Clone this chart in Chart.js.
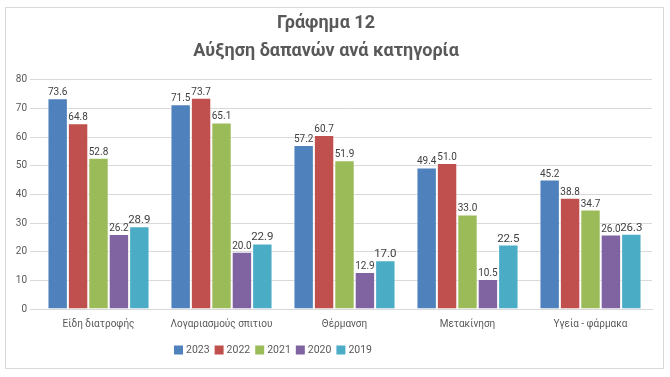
<!DOCTYPE html>
<html><head><meta charset="utf-8">
<script src="https://cdn.jsdelivr.net/npm/chart.js@4"></script>
<style>html,body{margin:0;padding:0;background:#fff}#wrap{width:670px;height:377px;position:relative}</style>
</head><body><div id="wrap"><canvas id="c" width="670" height="377"></canvas></div>
<script>
const categories = ["Είδη διατροφής","Λογαριασμούς σπιτιου","Θέρμανση","Μετακίνηση","Υγεία - φάρμακα"];
const years = ["2023","2022","2021","2020","2019"];
const v2023 = [73.6,71.5,57.2,49.4,45.2];
const v2022 = [64.8,73.7,60.7,51.0,38.8];
const v2021 = [52.8,65.1,51.9,33.0,34.7];
const v2020 = [26.2,20.0,12.9,10.5,26.0];
const v2019 = [28.9,22.9,17.0,22.5,26.3];
const yTicks = [0,10,20,30,40,50,60,70,80];
const titleLines = ["Γράφημα 12","Αύξηση δαπανών ανά κατηγορία"];
const colors = ["#4F81BD","#C0504D","#9BBB59","#8064A2","#4BACC6"];
const series = [v2023,v2022,v2021,v2020,v2019];
const FONT = 'Roboto, "Open Sans", sans-serif';

const frame = {id:'frame',beforeDraw(ch){const c=ch.ctx;c.save();c.fillStyle='#fff';c.fillRect(0,0,ch.width,ch.height);c.strokeStyle='#d9d9d9';c.lineWidth=1;c.strokeRect(5.5,7.5,658,361);c.restore();}};
const labels = {id:'lbl',afterDatasetsDraw(ch){const c=ch.ctx;c.save();c.textAlign='center';c.textBaseline='alphabetic';
 ch.data.datasets.forEach((ds,i)=>{const m=ch.getDatasetMeta(i);m.data.forEach((b,j)=>{
  c.font=(i===4?'11.5px ':'10px ')+FONT;c.fillStyle='#404040';
  c.fillText(ds.data[j].toFixed(1),b.x,b.y-3);});});c.restore();}};
const legend = {id:'myLegend',afterDraw(ch){const c=ch.ctx;c.save();c.font='10.5px '+FONT;c.textBaseline='middle';c.textAlign='left';
 let x=174;const y=350;
 ch.data.datasets.forEach((ds,i)=>{c.fillStyle=colors[i];c.fillRect(x,y-4.5,9,9);c.fillStyle='#595959';c.fillText(ds.label,x+12,y+0.5);x+=12+c.measureText(ds.label).width+5;});
 c.restore();}};

new Chart(document.getElementById('c'),{type:'bar',
 data:{labels:categories,datasets:series.map((d,i)=>({label:years[i],data:d,backgroundColor:colors[i],borderColor:'rgba(255,255,255,0.6)',borderWidth:{left:1,right:1,top:1,bottom:0},barPercentage:1,categoryPercentage:0.83}))},
 options:{responsive:false,animation:false,devicePixelRatio:1,
  layout:{padding:{left:0,right:18,top:0,bottom:46}},
  plugins:{title:{display:true,text:titleLines,color:'#595959',font:{family:FONT,size:18,weight:'bold',lineHeight:1.55},padding:{top:10,bottom:14}},
   legend:{display:false},tooltip:{enabled:false}},
  scales:{x:{grid:{display:false},border:{color:'#d9d9d9'},ticks:{color:'#595959',font:{family:FONT,size:10},maxRotation:0,padding:1}},
   y:{min:0,max:80,afterBuildTicks(ax){ax.ticks=yTicks.map(v=>({value:v}));},afterFit(ax){ax.width=37;},grid:{color:'#d9d9d9',tickLength:7},border:{display:false},ticks:{color:'#595959',font:{family:FONT,size:10},padding:3}}}},
 plugins:[frame,labels,legend]});
</script></body></html>
